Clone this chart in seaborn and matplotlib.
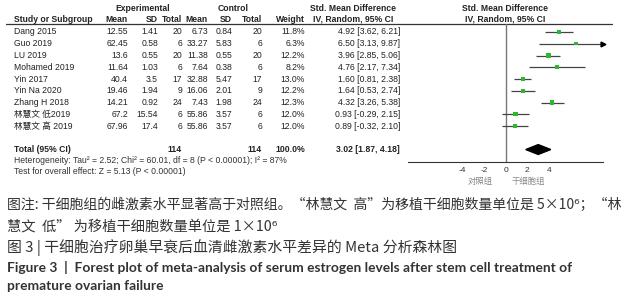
import numpy as np
import pandas as pd
import seaborn as sns
import matplotlib.pyplot as plt

sns.set_theme(style='white')
plt.rcParams['font.family'] = ['Liberation Sans', 'Noto Sans CJK SC', 'DejaVu Sans']
plt.rcParams['axes.unicode_minus'] = False

# 数据
studies = ['Dang 2015', 'Guo 2019', 'LU 2019', 'Mohamed 2019', 'Yin 2017', 'Yin Na 2020',
           'Zhang H 2018', '林慧文 低2019', '林慧文 高 2019']
exp_mean = [12.55, 62.45, 13.6, 11.64, 40.4, 19.46, 14.21, 67.2, 67.96]
exp_sd = [1.41, 0.58, 0.55, 1.03, 3.5, 1.94, 0.92, 15.54, 17.4]
exp_n = [20, 6, 20, 6, 17, 9, 24, 6, 6]
ctl_mean = [6.73, 33.27, 11.38, 7.64, 32.88, 16.06, 7.43, 55.86, 55.86]
ctl_sd = [0.84, 5.83, 0.55, 0.38, 5.47, 2.01, 1.98, 3.57, 3.57]
ctl_n = [20, 6, 20, 6, 17, 9, 24, 6, 6]
weight = [11.8, 6.3, 12.2, 8.2, 13.0, 12.2, 12.3, 12.0, 12.0]
smd = [4.92, 6.50, 3.96, 4.76, 1.60, 1.64, 4.32, 0.93, 0.89]
ci_lo = [3.62, 3.13, 2.85, 2.17, 0.81, 0.53, 3.26, -0.29, -0.32]
ci_hi = [6.21, 9.87, 5.06, 7.34, 2.38, 2.74, 5.38, 2.15, 2.10]
total_smd, total_lo, total_hi = 3.02, 1.87, 4.18
total_exp_n, total_ctl_n = 114, 114
heterogeneity = 'Heterogeneity: Tau² = 2.52; Chi² = 60.01, df = 8 (P < 0.00001); I² = 87%'
overall = 'Test for overall effect: Z = 5.13 (P < 0.00001)'
x_ticks = [-4, -2, 0, 2, 4]

df = pd.DataFrame({'study': studies, 'smd': smd, 'lo': ci_lo, 'hi': ci_hi, 'w': weight})
df['row'] = np.arange(len(df))
total_row = len(df) + 1

fig = plt.figure(figsize=(6.33, 3.0), dpi=100)
# 行距约11.75像素，第一行在y=32
ybot, ytop = 11.06, -0.68
axpos_b, axpos_h = 1 - 162 / 300, (162 - 24) / 300

# 表格部分
ax_t = fig.add_axes([0, axpos_b, 1, axpos_h])
ax_t.set_xlim(0, 633)
ax_t.set_ylim(ybot, ytop)
ax_t.axis('off')
tc = '#222222'
fs = 6.2
cols = [(128, exp_mean, '{:g}'), (158, exp_sd, '{:g}'), (182, exp_n, '{}'),
        (208, ctl_mean, '{:g}'), (232, ctl_sd, '{:g}'), (262, ctl_n, '{}'),
        (305, weight, '{:.1f}%')]
for i, r in df.iterrows():
    ax_t.text(14, r['row'], r['study'], ha='left', va='center', fontsize=fs, color=tc)
    for x, vals, fmt in cols:
        ax_t.text(x, r['row'], fmt.format(vals[i]), ha='right', va='center', fontsize=fs, color=tc)
    ax_t.text(400, r['row'], f"{r['smd']:.2f} [{r['lo']:.2f}, {r['hi']:.2f}]",
              ha='right', va='center', fontsize=fs, color=tc)

# 表头
h1, h2 = -2.04, -1.1
for x, s in [(143, 'Experimental'), (233, 'Control'), (353, 'Std. Mean Difference'),
             (505, 'Std. Mean Difference')]:
    ax_t.text(x, h1, s, ha='center', va='center', fontsize=fs, fontweight='bold', color=tc, clip_on=False)
ax_t.text(14, h2, 'Study or Subgroup', ha='left', va='center', fontsize=fs, fontweight='bold', color=tc, clip_on=False)
for x, s in [(128, 'Mean'), (158, 'SD'), (182, 'Total'), (208, 'Mean'), (232, 'SD'),
             (262, 'Total'), (305, 'Weight')]:
    ax_t.text(x, h2, s, ha='right', va='center', fontsize=fs, fontweight='bold', color=tc, clip_on=False)
for x in [353, 505]:
    ax_t.text(x, h2, 'IV, Random, 95% CI', ha='center', va='center', fontsize=fs, fontweight='bold', color=tc, clip_on=False)
ax_t.plot([6, 612], [ytop, ytop], color='#333333', lw=0.9, clip_on=False)

# 合计行
ax_t.text(14, total_row, 'Total (95% CI)', ha='left', va='center', fontsize=fs, fontweight='bold', color=tc)
ax_t.text(182, total_row, str(total_exp_n), ha='right', va='center', fontsize=fs, fontweight='bold', color=tc)
ax_t.text(262, total_row, str(total_ctl_n), ha='right', va='center', fontsize=fs, fontweight='bold', color=tc)
ax_t.text(305, total_row, f'{sum(weight):.1f}%', ha='right', va='center', fontsize=fs, fontweight='bold', color=tc)
ax_t.text(400, total_row, f'{total_smd:.2f} [{total_lo:.2f}, {total_hi:.2f}]',
          ha='right', va='center', fontsize=fs, fontweight='bold', color=tc)
ax_t.text(14, total_row + 0.95, heterogeneity, ha='left', va='center', fontsize=fs, color='#333333', clip_on=False)
ax_t.text(14, total_row + 1.9, overall, ha='left', va='center', fontsize=fs, color='#333333', clip_on=False)

# 森林图部分
ax_f = fig.add_axes([408 / 633, axpos_b, 195 / 633, axpos_h])
ax_f.patch.set_alpha(0)
xmax = 9
ax_f.set_xlim(-xmax, xmax)
ax_f.set_ylim(ybot, ytop)
ax_f.axvline(0, color='#777777', lw=1.0)
ax_f.hlines(df['row'], df['lo'].clip(upper=xmax), df['hi'].clip(upper=xmax), color='#444444', lw=0.9)
sns.scatterplot(data=df, x='smd', y='row', marker='s', size='w', sizes=(6, 10), color='#2fb82f',
                edgecolor='none', legend=False, ax=ax_f, zorder=3)
over = df[df['hi'] > xmax]
ax_f.plot(np.full(len(over), xmax), over['row'], marker='>', ls='none', color='black', ms=3.5, clip_on=False)
dh = 0.42
ax_f.fill([total_lo, total_smd, total_hi, total_smd],
          [total_row, total_row - dh, total_row, total_row + dh], color='black')

for s in ['top', 'right', 'left']:
    ax_f.spines[s].set_visible(False)
ax_f.spines['bottom'].set_color('#333333')
ax_f.spines['bottom'].set_linewidth(0.8)
ax_f.set_yticks([])
ax_f.set_xticks(x_ticks)
ax_f.tick_params(axis='x', direction='inout', length=5, width=0.8, color='#333333',
                 labelsize=6, labelcolor='#333333', pad=1)
ax_f.set_xlabel('')
ax_f.set_ylabel('')
ax_f.text(-1.2, ybot + 1.7, '对照组', ha='right', va='center', fontsize=6, color='#888888', clip_on=False)
ax_f.text(0.6, ybot + 1.7, '干细胞组', ha='left', va='center', fontsize=6, color='#888888', clip_on=False)

# 图注
cfont = ['Noto Sans CJK SC', 'DejaVu Sans']
efont = ['Lato', 'DejaVu Sans']
renderer = fig.canvas.get_renderer()


def put(y_px, s, size, family, right_px=None, **kw):
    t = fig.text(7 / 633, 1 - y_px / 300, s, fontsize=size, family=family, color='#333333', va='center', **kw)
    if right_px is not None:
        w = t.get_window_extent(renderer).width
        t.set_fontsize(size * (right_px - 7) / w)
    return t


put(205, '图注: 干细胞组的雌激素水平显著高于对照组。“林慧文  高”为移植干细胞数量单位是 5×10⁶；“林', 10, cfont, 623)
put(227, '慧文  低” 为移植干细胞数量单位是 1×10⁶', 10, cfont, 277)
put(248, '图 3 | 干细胞治疗卵巢早衰后血清雌激素水平差异的 Meta 分析森林图', 10.5, cfont, 457)
t = put(267, 'Figure 3  |  Forest plot of meta-analysis of serum estrogen levels after stem cell treatment of',
        9, efont, 568, fontweight='bold')
put(286, 'premature ovarian failure', t.get_fontsize(), efont, fontweight='bold')

plt.savefig('out.png', dpi=100)
